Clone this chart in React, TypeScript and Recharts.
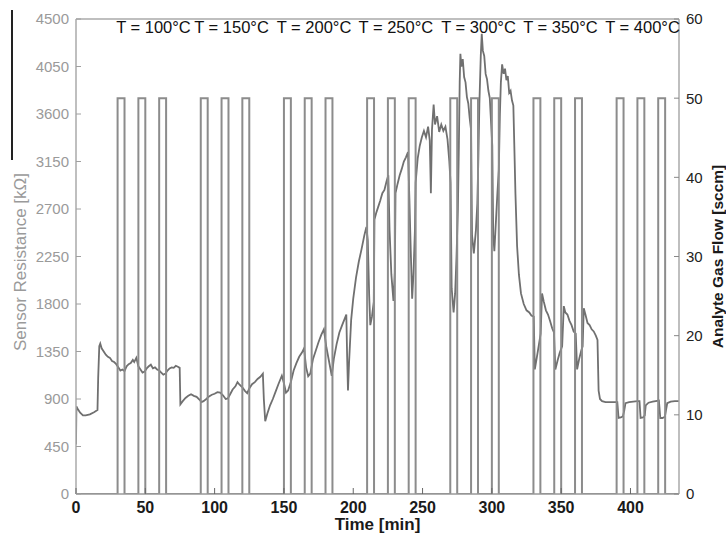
import React from 'react';
import { LineChart, Line, XAxis, YAxis, ReferenceLine, ReferenceDot } from 'recharts';

const timeTicks = [0, 50, 100, 150, 200, 250, 300, 350, 400];
const resistanceTicks = [0, 450, 900, 1350, 1800, 2250, 2700, 3150, 3600, 4050, 4500];
const flowTicks = [0, 10, 20, 30, 40, 50, 60];

const pulseStarts = [30, 45, 60, 90, 105, 120, 150, 165, 180, 210, 225, 240, 270, 285, 300, 330, 345, 360, 390, 405, 420];
const pulseLength = 5;
const pulseFlow = 50;

const tempLabels = ['T = 100°C', 'T = 150°C', 'T = 200°C', 'T = 250°C', 'T = 300°C', 'T = 350°C', 'T = 400°C'];
const tempLabelTimes = [55.9, 112.2, 171.7, 230.8, 290.4, 349.5, 408.7];

const resistancePoints: [number, number][] = [
  [0, 470], [0.3, 830], [1.5, 800], [3, 770], [5, 745], [7, 745], [10, 755], [13, 775], [15.5, 795], [16, 1100],
  [16.8, 1400], [17.5, 1425], [18.5, 1380], [20, 1350], [21.5, 1320], [23, 1300], [24.5, 1290], [26, 1260], [27.5, 1250],
  [29, 1230], [30.5, 1200], [32, 1170], [33.5, 1180], [35, 1165], [36.5, 1210], [38, 1230], [39.5, 1240], [41, 1270],
  [42, 1250], [43.5, 1290], [45, 1210], [46.5, 1180], [48, 1150], [49.5, 1160], [51, 1190], [52.5, 1210], [54, 1225],
  [55.5, 1190], [57, 1200], [58.5, 1180], [60, 1170], [61.5, 1150], [63, 1130], [64.5, 1140], [66, 1170], [67.5, 1190],
  [69, 1200], [70.5, 1195], [72, 1215], [73.5, 1205], [74.8, 1195], [75.3, 850], [77, 880], [79, 910], [81, 930],
  [83, 945], [85, 930], [87, 920], [89, 895], [90.5, 870], [92, 880], [94, 900], [96, 925], [98, 940], [100, 950],
  [102, 965], [104, 960], [106, 935], [108, 900], [109.5, 905], [111, 940], [113, 990], [115, 1020], [116.5, 1060],
  [118, 1035], [120, 1010], [122, 975], [123.5, 955], [125, 1000], [127, 1040], [129, 1060], [131, 1090], [133, 1110],
  [134.8, 1140], [135.5, 900], [136.5, 690], [138, 760], [140, 840], [142, 900], [144, 970], [146, 1040], [148.5, 1120],
  [150, 1050], [151.5, 960], [153, 980], [155, 1060], [157, 1170], [159, 1240], [161, 1300], [163, 1340], [164.5, 1380],
  [166, 1200], [167.5, 1115], [169, 1140], [171, 1280], [173, 1360], [175, 1440], [177, 1510], [178.8, 1560],
  [180.5, 1400], [182.5, 1260], [184.5, 1120], [186, 1280], [188, 1420], [190, 1530], [192, 1600], [193.5, 1650],
  [195, 1700], [195.6, 1300], [196.2, 980], [197, 1250], [198.5, 1650], [200, 1850], [202, 2050], [204, 2200],
  [206, 2320], [208, 2450], [209.5, 2530], [210.5, 2400], [211.5, 1880], [212.3, 1600], [213.5, 1680], [214.8, 1820],
  [215.3, 2600], [216.5, 2660], [218, 2720], [219.5, 2780], [221, 2850], [222.5, 2880], [224, 2960], [225.3, 3020],
  [226.2, 2500], [227.5, 2080], [229, 1830], [230, 2100], [230.5, 2850], [232, 2940], [233.5, 3020], [235, 3080],
  [236.5, 3150], [238, 3190], [239.5, 3240], [240.5, 2800], [241.5, 2300], [242.5, 1850], [243.5, 2100], [244.5, 2500],
  [245, 2950], [246.5, 3180], [248, 3300], [249.5, 3380], [251, 3440], [252.5, 3380], [254, 3480], [255.2, 3350],
  [256, 2850], [256.8, 3450], [258, 3690], [259, 3500], [260.5, 3580], [262, 3430], [263.5, 3500], [265, 3440],
  [266.5, 3480], [268, 3360], [269.3, 3150], [270.2, 2950], [271, 1950], [272.4, 1720], [273.5, 1900], [274.5, 2250],
  [275.5, 2700], [276.2, 3300], [276.8, 3900], [277.3, 4170], [278, 4050], [279, 4120], [280, 3950], [281, 3900],
  [282, 3760], [283, 3700], [284, 3560], [285, 3450], [285.7, 2450], [287, 2280], [288.5, 2500], [289.5, 2750],
  [290.3, 3200], [291, 3700], [292, 4150], [292.7, 4360], [293.5, 4200], [294.5, 4150], [295.5, 3980], [296.5, 3930],
  [297.5, 3820], [298.5, 3750], [299.5, 3500], [300.3, 3300], [301, 2450], [301.8, 2300], [303, 2600], [304, 2850],
  [305, 3070], [305.8, 3600], [306.5, 3900], [307.4, 4070], [308.5, 3980], [309.5, 4030], [310.5, 3920], [311.5, 3960],
  [312.5, 3800], [313.5, 3820], [314.5, 3730], [315.5, 3680], [316.2, 3300], [317, 2850], [318.2, 2350], [319.5, 2080],
  [321, 1900], [323, 1800], [325, 1740], [327, 1720], [328.5, 1690], [330.2, 1680], [331, 1180], [332.5, 1300],
  [334, 1420], [335.2, 1520], [336.2, 1900], [337.5, 1820], [339, 1740], [340.5, 1700], [342, 1640], [343.5, 1570],
  [344.8, 1530], [345.8, 1180], [347.5, 1270], [349, 1340], [350.7, 1400], [351.9, 1780], [353, 1720], [354.5, 1700],
  [356, 1640], [357.5, 1600], [359, 1540], [360.5, 1520], [361.5, 1180], [363, 1280], [364.5, 1360], [365.5, 1400],
  [366.3, 1760], [367.5, 1700], [369, 1620], [370.5, 1600], [372, 1560], [373.5, 1540], [375, 1500], [376.2, 1460],
  [377, 980], [378, 900], [379.5, 880], [382, 870], [386, 870], [390.5, 870], [391.4, 720], [393, 725], [394.5, 735],
  [395.5, 790], [396.4, 860], [399, 870], [402, 875], [405, 880], [406.5, 880], [407.3, 720], [409, 725], [410.3, 745],
  [411, 840], [413, 865], [416, 875], [420.5, 885], [421.5, 720], [423, 720], [424.8, 730], [425.7, 800], [426.5, 860],
  [429, 875], [432, 880], [435, 880],
];

const resistanceData = resistancePoints.map(([t, r]) => ({ t, r }));

const flowData: { t: number; f: number }[] = [{ t: 0, f: 0 }];
pulseStarts.forEach((s) => {
  flowData.push({ t: s, f: 0 }, { t: s, f: pulseFlow }, { t: s + pulseLength, f: pulseFlow }, { t: s + pulseLength, f: 0 });
});
flowData.push({ t: 435, f: 0 });

const FONT = '"Liberation Sans", Arial, Helvetica, sans-serif';
const PLOT_LEFT = 76;
const PLOT_RIGHT = 679;
const PLOT_BOTTOM = 494;

const LeftTick = (props: any) => {
  const { x, y, payload } = props;
  return (
    <g>
      <line x1={PLOT_LEFT} x2={PLOT_LEFT + 5} y1={y} y2={y} stroke="#a0a0a0" strokeWidth={1} />
      <text x={x} y={y} dy="0.36em" textAnchor="end" fill="#9a9a9a" fontSize={15} fontFamily={FONT}>
        {payload.value}
      </text>
    </g>
  );
};

const RightTick = (props: any) => {
  const { x, y, payload } = props;
  return (
    <g>
      <line x1={PLOT_RIGHT - 5} x2={PLOT_RIGHT} y1={y} y2={y} stroke="#888" strokeWidth={1} />
      <text x={x} y={y} dy="0.36em" textAnchor="start" fill="#222" fontSize={15} fontFamily={FONT}>
        {payload.value}
      </text>
    </g>
  );
};

const BottomTick = (props: any) => {
  const { x, y, payload } = props;
  return (
    <g>
      <line x1={x} x2={x} y1={PLOT_BOTTOM} y2={PLOT_BOTTOM - 6} stroke="#666" strokeWidth={1} />
      <text x={x} y={y} dy="0.71em" textAnchor="middle" fill="#1a1a1a" fontSize={16} fontWeight="bold" fontFamily={FONT}>
        {payload.value}
      </text>
    </g>
  );
};

export default function App() {
  return (
    <div style={{ position: 'absolute', left: 0, top: 0, width: 726, height: 537, background: '#fff' }}>
      <div style={{ position: 'absolute', left: 11, top: 10, width: 2, height: 150, background: '#222' }} />
      <LineChart width={726} height={537} margin={{ top: 19, right: 0, bottom: 0, left: 0 }}>
        <XAxis
          dataKey="t"
          type="number"
          domain={[0, 435]}
          ticks={timeTicks}
          allowDataOverflow
          height={43}
          tickLine={false}
          tickSize={0}
          tickMargin={8}
          axisLine={{ stroke: '#999', strokeWidth: 1.5 }}
          tick={BottomTick}
          label={() => (
            <text x={377.5} y={530} textAnchor="middle" fill="#1a1a1a" fontSize={17} fontWeight="bold" fontFamily={FONT}>
              Time [min]
            </text>
          )}
        />
        <YAxis
          yAxisId="left"
          width={76}
          domain={[0, 4500]}
          ticks={resistanceTicks}
          allowDataOverflow
          tickLine={false}
          tickSize={0}
          tickMargin={7}
          axisLine={{ stroke: '#aaa', strokeWidth: 1.5 }}
          tick={LeftTick}
          label={() => (
            <text x={20.5} y={262} transform="rotate(-90 20.5 262)" textAnchor="middle" dominantBaseline="central" fill="#9a9a9a" fontSize={17} fontFamily={FONT}>
              Sensor Resistance [kΩ]
            </text>
          )}
        />
        <YAxis
          yAxisId="right"
          orientation="right"
          width={47}
          domain={[0, 60]}
          ticks={flowTicks}
          allowDataOverflow
          tickLine={false}
          tickSize={0}
          tickMargin={7}
          axisLine={{ stroke: '#aaa', strokeWidth: 1.5 }}
          tick={RightTick}
          label={() => (
            <text x={717} y={256.5} transform="rotate(-90 717 256.5)" textAnchor="middle" dominantBaseline="central" fill="#1a1a1a" fontSize={15.5} fontWeight="bold" fontFamily={FONT}>
              Analyte Gas Flow [sccm]
            </text>
          )}
        />
        <ReferenceLine yAxisId="left" y={4500} stroke="#aaa" strokeWidth={1.5} />
        <Line
          yAxisId="left"
          data={resistanceData}
          dataKey="r"
          type="linear"
          stroke="#707070"
          strokeWidth={1.8}
          dot={false}
          activeDot={false}
          isAnimationActive={false}
        />
        <Line
          yAxisId="right"
          data={flowData}
          dataKey="f"
          type="linear"
          stroke="#8c8c8c"
          strokeWidth={2}
          dot={false}
          activeDot={false}
          isAnimationActive={false}
        />
        {tempLabels.map((lab, i) => (
          <ReferenceDot
            key={lab}
            yAxisId="left"
            x={tempLabelTimes[i]}
            y={4420}
            r={0}
            fill="none"
            stroke="none"
            ifOverflow="visible"
            label={{ value: lab, position: 'center', fill: '#111', fontSize: 16.5, fontFamily: FONT }}
          />
        ))}
      </LineChart>
    </div>
  );
}
